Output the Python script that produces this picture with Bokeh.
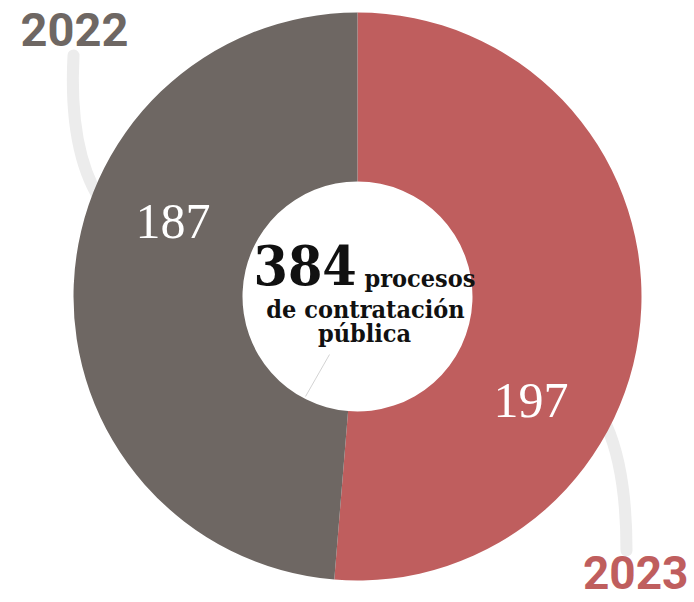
import numpy as np
from bokeh.plotting import figure
from bokeh.models import Range1d, ColumnDataSource
from bokeh.core.properties import value
from bokeh.embed import file_html
from bokeh.resources import INLINE

# ---- data ----
years = ["2023", "2022"]
counts = [197, 187]
colors = ["#bf5e5e", "#6e6763"]
total_label = "384"
center_lines = ["procesos", "de contratación", "pública"]

W, H = 694, 602
def Y(py):
    return H - py
def X(px):
    return px
K = 0.38  # baseline correction as a fraction of the font size

p = figure(width=W, height=H, output_backend="svg", toolbar_location=None,
           x_range=Range1d(0, W), y_range=Range1d(0, H), min_border=0)
p.axis.visible = False
p.grid.visible = False
p.outline_line_color = None
p.background_fill_color = "#ffffff"
p.border_fill_color = "#ffffff"

# decorative light arcs
p.quadratic(x0=[X(73)], y0=[Y(55)], x1=[X(100)], y1=[Y(200)], cx=[X(68)], cy=[Y(150)],
            line_color="#ececec", line_width=12, line_cap="round")
p.quadratic(x0=[X(606)], y0=[Y(425)], x1=[X(626)], y1=[Y(550)], cx=[X(626)], cy=[Y(470)],
            line_color="#ececec", line_width=12, line_cap="round")

# donut
vals = np.array(counts, dtype=float)
frac = vals / vals.sum()
ends = np.cumsum(frac) * 2 * np.pi
starts = np.concatenate([[0.0], ends[:-1]])
start_angle = np.pi / 2 - starts
end_angle = np.pi / 2 - ends
cx, cy = X(357), Y(296)
src = ColumnDataSource(dict(x=[cx] * len(vals), y=[cy] * len(vals),
                            start=list(start_angle), end=list(end_angle), color=colors))
p.annular_wedge(x="x", y="y", inner_radius=115, outer_radius=284,
                start_angle="start", end_angle="end", direction="clock",
                fill_color="color", line_color=None, source=src)

# faint leader line
p.line(x=[X(329), X(305)], y=[Y(354), Y(396)], line_color="#c8c8c8", line_width=0.8)

def label(px, py, txt, font, size, color, align="left", bold=False):
    p.text(x=[X(px)], y=[Y(py - K * size)], text=[txt], text_font=value(font),
           text_font_style="bold" if bold else "normal", text_font_size=f"{size}px",
           text_color=color, text_baseline="alphabetic", text_align=align)

# year labels
label(20, 47, years[1], "Roboto", 47, colors[1], bold=True)
label(688, 589, years[0], "Roboto", 46, colors[0], align="right", bold=True)

# slice values
label(135, 240, str(counts[1]), "Liberation Serif", 50, "#ffffff")
label(493, 419, str(counts[0]), "Liberation Serif", 50, "#ffffff")

# center text
label(253, 285, total_label, "DejaVu Serif Condensed", 55, "#111111", bold=True)
label(364, 287, center_lines[0], "DejaVu Serif Condensed", 25, "#111111", bold=True)
label(365, 318, center_lines[1], "DejaVu Serif Condensed", 25, "#111111", align="center", bold=True)
label(364, 342, center_lines[2], "DejaVu Serif Condensed", 25, "#111111", align="center", bold=True)

open("out.html", "w").write(file_html(p, INLINE))
